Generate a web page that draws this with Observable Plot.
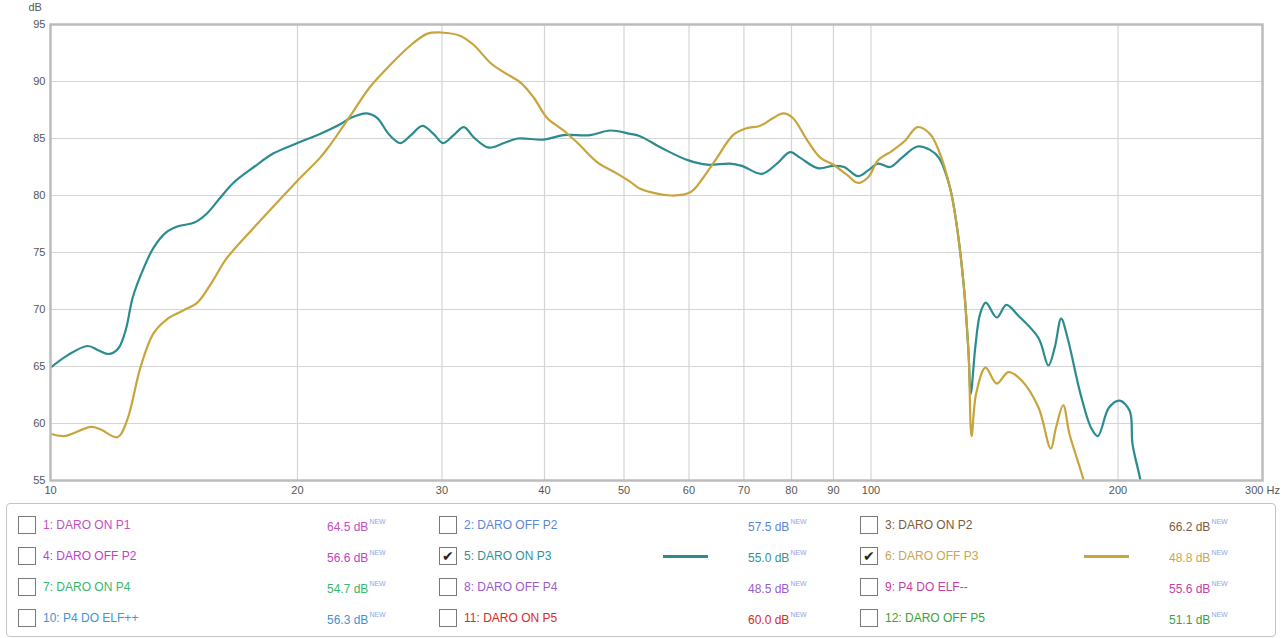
<!DOCTYPE html>
<html>
<head>
<meta charset="utf-8">
<script src="https://cdn.jsdelivr.net/npm/d3@7"></script>
<script src="https://cdn.jsdelivr.net/npm/@observablehq/plot@0.6"></script>
<style>
  body { margin: 0; background: #fff; font-family: "Liberation Sans", Arial, sans-serif; }
  #wrap { position: relative; width: 1285px; height: 638px; }
  #legend { position: absolute; left: 6px; top: 503px; width: 1268px; height: 132px;
            border: 1px solid #c4c4c4; border-radius: 4px; box-sizing: content-box; }
  .cell { position: absolute; height: 31px; width: 421px; font-size: 12px; }
  .cell .box { position: absolute; left: 10px; top: 6px; width: 16px; height: 16px;
               border: 1px solid #7a7a7a; background: #fff; font-size: 14px; line-height: 16px;
               text-align: center; color: #222; }
  .cell .name { position: absolute; left: 35px; top: 8px; white-space: nowrap; }
  .cell .sample { position: absolute; left: 234px; top: 14px; width: 45px; height: 3px; }
  .cell .val { position: absolute; left: 319px; top: 8px; white-space: nowrap; }
  .cell .val sup { font-size: 7px; color: #8ea6ea; vertical-align: 7px; margin-left: 1px; }
</style>
</head>
<body>
<div id="wrap">
  <div id="chart"></div>
  <div id="legend"></div>
</div>
<script>
// ---- Data (Hz, dB) ----
const daroOnP3 = [
  [10, 64.9], [10.5, 66.0], [11.1, 66.8], [11.45, 66.4], [11.8, 66.1], [12.1, 66.6],
  [12.35, 68.2], [12.6, 71.1], [13.0, 73.7], [13.35, 75.4], [13.8, 76.7], [14.3, 77.3],
  [14.95, 77.6], [15.5, 78.4], [16.1, 79.8], [16.7, 81.1], [17.7, 82.5], [18.7, 83.7],
  [20, 84.6], [21.3, 85.4], [22.6, 86.3], [23.2, 86.8], [24.3, 87.2], [25.0, 86.8],
  [25.9, 85.3], [26.7, 84.6], [27.5, 85.3], [28.4, 86.1], [29.3, 85.4], [30.1, 84.6],
  [31.0, 85.3], [31.9, 86.0], [32.8, 85.1], [34.2, 84.2], [35.7, 84.6], [37.1, 85.0],
  [39.9, 84.9], [42.2, 85.3], [45.5, 85.3], [48.1, 85.7], [50.9, 85.4], [52.3, 85.2],
  [55.8, 84.1], [59.8, 83.1], [63.2, 82.7], [67.3, 82.8], [69.6, 82.6], [73.6, 81.9],
  [76.8, 82.8], [79.7, 83.8], [82, 83.3], [86.1, 82.4], [90, 82.6], [92.7, 82.5],
  [96.4, 81.7], [99.2, 82.2], [102, 82.8], [105.5, 82.5], [109, 83.3], [113.9, 84.3],
  [118, 84.0], [121, 83.3], [124.8, 80.7], [127.3, 77.2], [129.8, 71.9], [131.5, 66.1],
  [132.3, 62.6], [134, 66.7], [135.8, 69.6], [138, 70.6], [142.3, 69.3], [146.2, 70.4],
  [151, 69.5], [160, 67.5], [164.5, 65.1], [167.5, 66.7], [170.5, 69.2], [173.6, 67.5],
  [180, 62.6], [185.5, 59.6], [189, 58.9], [195, 61.4], [201, 62.0], [206.7, 61.1],
  [208.3, 58.2], [213, 55], [215, 53]
];
const daroOffP3 = [
  [10, 59.1], [10.4, 58.9], [11.2, 59.7], [11.5, 59.5], [12.07, 58.8], [12.4, 60.3],
  [12.87, 64.9], [13.35, 67.9], [13.9, 69.2], [14.5, 69.9], [15.1, 70.6], [15.7, 72.3],
  [16.4, 74.5], [17.7, 77.2], [19.06, 79.7], [20, 81.3], [21.3, 83.3], [21.9, 84.4],
  [22.6, 85.8], [23.2, 87.0], [24.5, 89.5], [25.9, 91.4], [27.5, 93.2], [28.8, 94.2],
  [29.9, 94.3], [31.6, 94.0], [32.8, 93.2], [34.4, 91.6], [35.7, 90.8], [37.4, 89.9],
  [38.8, 88.6], [40.3, 86.8], [42.2, 85.7], [43.9, 84.6], [46.4, 82.9], [49.1, 81.9],
  [50.9, 81.2], [52.3, 80.6], [57.0, 80.0], [60.3, 80.3], [62.5, 81.6], [64.9, 83.3],
  [67.9, 85.3], [70.5, 85.9], [73.2, 86.1], [76, 86.8], [78.2, 87.2], [80.3, 86.8],
  [83.7, 84.8], [86.8, 83.3], [90, 82.7], [93.5, 81.8], [96.4, 81.1], [99.2, 81.6],
  [102, 83.1], [106, 83.9], [110, 84.8], [113.9, 86.0], [118, 85.4], [121, 83.9],
  [124.8, 80.7], [127.3, 77.2], [129.8, 71.9], [131.5, 66.1], [132.6, 58.9], [134.3, 62.6],
  [137.9, 64.9], [142.3, 63.5], [147, 64.5], [152.5, 63.8], [160, 61.4], [165.6, 57.8],
  [168, 59.6], [171.5, 61.6], [174.5, 59.1], [181.6, 55], [184, 53]
];

const xTicks = [10, 20, 30, 40, 50, 60, 70, 80, 90, 100, 200, 300];
const xGrid = [20, 30, 40, 50, 60, 70, 80, 90, 100, 200];
const yTicks = [55, 60, 65, 70, 75, 80, 85, 90, 95];
const yGrid = [60, 65, 70, 75, 80, 85, 90];

// Legend entries
const legendNames = ["1: DARO ON P1", "2: DARO OFF P2", "3: DARO ON P2",
  "4: DARO OFF P2", "5: DARO ON P3", "6: DARO OFF P3",
  "7: DARO ON P4", "8: DARO OFF P4", "9: P4 DO ELF--",
  "10: P4 DO ELF++", "11: DARO ON P5", "12: DARO OFF P5"];
const legendValues = ["64.5", "57.5", "66.2", "56.6", "55.0", "48.8",
  "54.7", "48.5", "55.6", "56.3", "60.0", "51.1"];
const legendColors = ["#c24fc4", "#5a86d6", "#7d5a3c", "#c23fc4", "#2f9393", "#c9a64a",
  "#35b86e", "#9a5ccc", "#c440a6", "#3f93d4", "#d42a2a", "#36a23e"];
const legendChecked = [false, false, false, false, true, true,
  false, false, false, false, false, false];

const tealColor = "#2b8b8e";
const goldColor = "#c8a43c";

const chart = Plot.plot({
  width: 1285,
  height: 500,
  marginLeft: 50,
  marginRight: 23,
  marginTop: 24,
  marginBottom: 20,
  style: { fontSize: "11px", fontFamily: "'Liberation Sans', Arial, sans-serif", color: "#555", background: "#fff" },
  x: { type: "log", domain: [10, 300] },
  y: { domain: [55, 95] },
  marks: [
    Plot.gridX(xGrid, { stroke: "#d4d4d4", strokeOpacity: 1, strokeWidth: 1.2 }),
    Plot.gridY(yGrid, { stroke: "#d4d4d4", strokeOpacity: 1, strokeWidth: 1.2 }),
    Plot.axisX(xTicks, { tickSize: 0, tickPadding: 6, label: null,
      tickFormat: d => d === 300 ? "300 Hz" : String(d), fill: "#555" }),
    Plot.axisY(yTicks, { tickSize: 0, tickPadding: 5, label: "dB", labelAnchor: "top",
      labelArrow: "none", labelOffset: 22, fill: "#555" }),
    Plot.line(daroOnP3, { x: d => d[0], y: d => d[1], stroke: tealColor, strokeWidth: 2.2,
      curve: "catmull-rom", clip: true }),
    Plot.line(daroOffP3, { x: d => d[0], y: d => d[1], stroke: goldColor, strokeWidth: 2.2,
      curve: "catmull-rom", clip: true }),
    Plot.frame({ stroke: "#bcbcbc", strokeWidth: 2.5 })
  ]
});
document.getElementById("chart").appendChild(chart);

// Legend
const legend = document.getElementById("legend");
legendNames.forEach((name, i) => {
  const col = i % 3, row = Math.floor(i / 3);
  const cell = document.createElement("div");
  cell.className = "cell";
  cell.style.left = (1 + col * 421) + "px";
  cell.style.top = (6 + row * 31) + "px";
  const color = legendColors[i];
  const box = `<div class="box">${legendChecked[i] ? "✔" : ""}</div>`;
  const sample = legendChecked[i]
    ? `<div class="sample" style="background:${i === 4 ? tealColor : goldColor}"></div>` : "";
  cell.innerHTML = box +
    `<div class="name" style="color:${color}">${name}</div>` + sample +
    `<div class="val" style="color:${color}">${legendValues[i]} dB<sup>NEW</sup></div>`;
  legend.appendChild(cell);
});
</script>
</body>
</html>
